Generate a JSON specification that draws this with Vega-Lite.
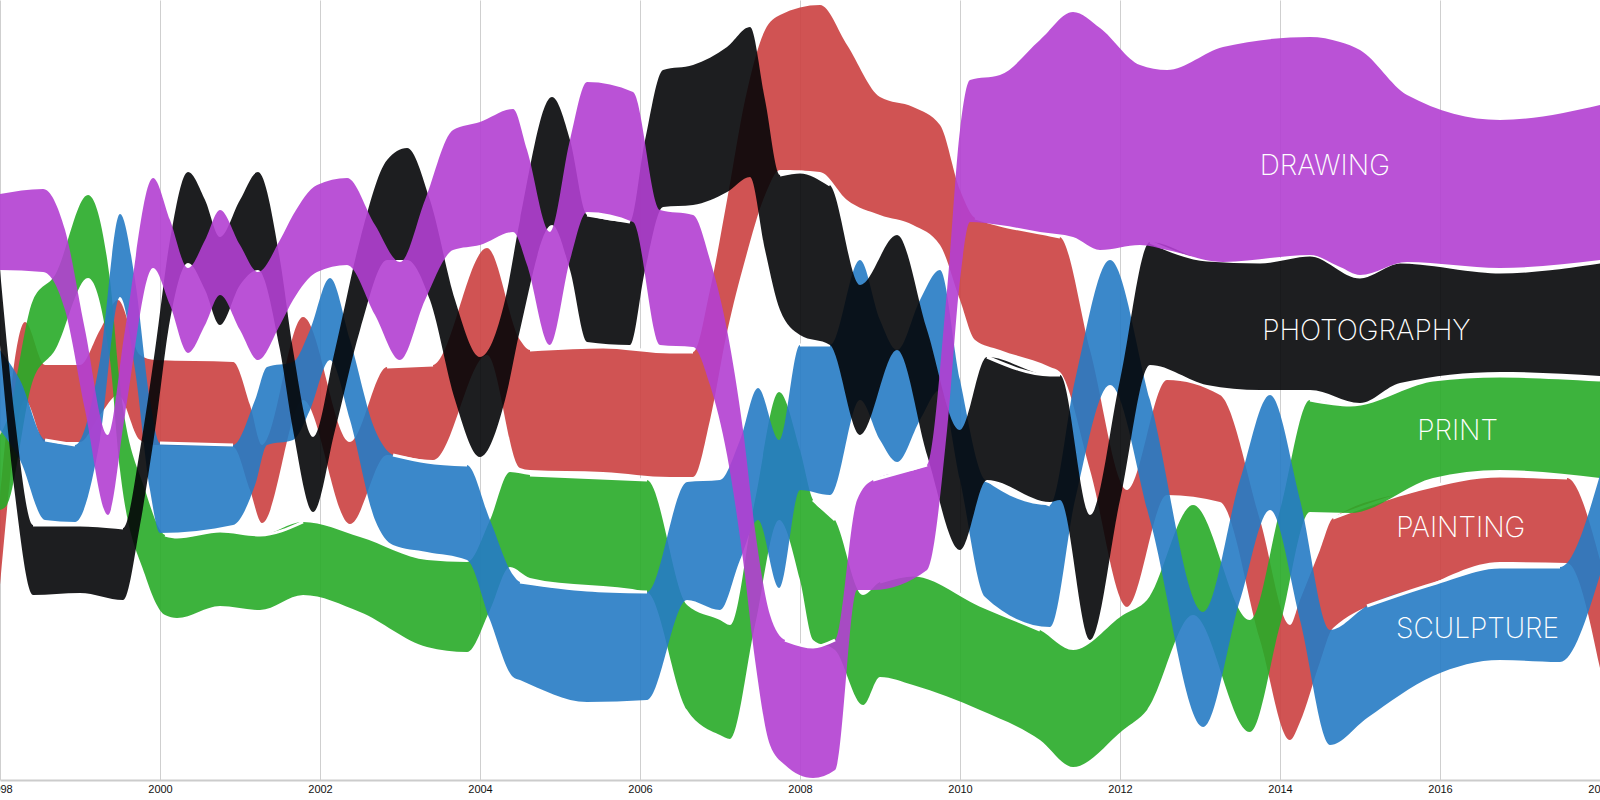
{
  "$schema": "https://vega.github.io/schema/vega-lite/v6.json",
  "width": 1600,
  "height": 780,
  "autosize": "none",
  "padding": {"left": 0, "top": 0, "right": 0, "bottom": 20},
  "background": "white",
  "config": {"view": {"stroke": null}},
  "datasets": {
    "bands": [
      {"category": "DRAWING", "year": 1998.000, "top": 194, "bottom": 270},
      {"category": "DRAWING", "year": 1998.538, "top": 189, "bottom": 272},
      {"category": "DRAWING", "year": 1998.813, "top": 230, "bottom": 310},
      {"category": "DRAWING", "year": 1999.063, "top": 330, "bottom": 410},
      {"category": "DRAWING", "year": 1999.350, "top": 435, "bottom": 515},
      {"category": "DRAWING", "year": 1999.563, "top": 330, "bottom": 415},
      {"category": "DRAWING", "year": 1999.913, "top": 178, "bottom": 268},
      {"category": "DRAWING", "year": 2000.125, "top": 220, "bottom": 305},
      {"category": "DRAWING", "year": 2000.350, "top": 268, "bottom": 353},
      {"category": "DRAWING", "year": 2000.563, "top": 240, "bottom": 325},
      {"category": "DRAWING", "year": 2000.750, "top": 210, "bottom": 295},
      {"category": "DRAWING", "year": 2001.000, "top": 245, "bottom": 330},
      {"category": "DRAWING", "year": 2001.225, "top": 272, "bottom": 360},
      {"category": "DRAWING", "year": 2001.500, "top": 240, "bottom": 325},
      {"category": "DRAWING", "year": 2001.663, "top": 215, "bottom": 300},
      {"category": "DRAWING", "year": 2001.963, "top": 185, "bottom": 272},
      {"category": "DRAWING", "year": 2002.338, "top": 178, "bottom": 265},
      {"category": "DRAWING", "year": 2002.688, "top": 225, "bottom": 315},
      {"category": "DRAWING", "year": 2003.000, "top": 262, "bottom": 360},
      {"category": "DRAWING", "year": 2003.313, "top": 200, "bottom": 300},
      {"category": "DRAWING", "year": 2003.663, "top": 130, "bottom": 250},
      {"category": "DRAWING", "year": 2004.000, "top": 122, "bottom": 245},
      {"category": "DRAWING", "year": 2004.413, "top": 109, "bottom": 232},
      {"category": "DRAWING", "year": 2004.588, "top": 150, "bottom": 265},
      {"category": "DRAWING", "year": 2004.875, "top": 232, "bottom": 345},
      {"category": "DRAWING", "year": 2005.125, "top": 140, "bottom": 260},
      {"category": "DRAWING", "year": 2005.338, "top": 82, "bottom": 212},
      {"category": "DRAWING", "year": 2005.913, "top": 92, "bottom": 222},
      {"category": "DRAWING", "year": 2006.250, "top": 210, "bottom": 345},
      {"category": "DRAWING", "year": 2006.663, "top": 215, "bottom": 347},
      {"category": "DRAWING", "year": 2006.875, "top": 260, "bottom": 385},
      {"category": "DRAWING", "year": 2007.088, "top": 330, "bottom": 455},
      {"category": "DRAWING", "year": 2007.288, "top": 430, "bottom": 560},
      {"category": "DRAWING", "year": 2007.438, "top": 530, "bottom": 660},
      {"category": "DRAWING", "year": 2007.625, "top": 615, "bottom": 745},
      {"category": "DRAWING", "year": 2007.813, "top": 640, "bottom": 765},
      {"category": "DRAWING", "year": 2008.163, "top": 647, "bottom": 778},
      {"category": "DRAWING", "year": 2008.438, "top": 640, "bottom": 770},
      {"category": "DRAWING", "year": 2008.713, "top": 500, "bottom": 590},
      {"category": "DRAWING", "year": 2008.913, "top": 480, "bottom": 590},
      {"category": "DRAWING", "year": 2009.588, "top": 465, "bottom": 570},
      {"category": "DRAWING", "year": 2009.838, "top": 290, "bottom": 430},
      {"category": "DRAWING", "year": 2010.000, "top": 130, "bottom": 280},
      {"category": "DRAWING", "year": 2010.125, "top": 80, "bottom": 222},
      {"category": "DRAWING", "year": 2010.500, "top": 75, "bottom": 225},
      {"category": "DRAWING", "year": 2011.000, "top": 40, "bottom": 232},
      {"category": "DRAWING", "year": 2011.413, "top": 12, "bottom": 237},
      {"category": "DRAWING", "year": 2011.750, "top": 28, "bottom": 250},
      {"category": "DRAWING", "year": 2012.250, "top": 65, "bottom": 245},
      {"category": "DRAWING", "year": 2012.588, "top": 70, "bottom": 250},
      {"category": "DRAWING", "year": 2013.288, "top": 47, "bottom": 262},
      {"category": "DRAWING", "year": 2014.375, "top": 37, "bottom": 255},
      {"category": "DRAWING", "year": 2014.750, "top": 42, "bottom": 267},
      {"category": "DRAWING", "year": 2015.000, "top": 50, "bottom": 275},
      {"category": "DRAWING", "year": 2015.588, "top": 95, "bottom": 262},
      {"category": "DRAWING", "year": 2016.750, "top": 120, "bottom": 268},
      {"category": "DRAWING", "year": 2018.000, "top": 105, "bottom": 260},

      {"category": "PHOTOGRAPHY", "year": 1998.000, "top": 270, "bottom": 345},
      {"category": "PHOTOGRAPHY", "year": 1998.188, "top": 420, "bottom": 495},
      {"category": "PHOTOGRAPHY", "year": 1998.413, "top": 525, "bottom": 595},
      {"category": "PHOTOGRAPHY", "year": 1999.000, "top": 525, "bottom": 593},
      {"category": "PHOTOGRAPHY", "year": 1999.538, "top": 528, "bottom": 600},
      {"category": "PHOTOGRAPHY", "year": 1999.750, "top": 450, "bottom": 525},
      {"category": "PHOTOGRAPHY", "year": 1999.938, "top": 350, "bottom": 430},
      {"category": "PHOTOGRAPHY", "year": 2000.125, "top": 240, "bottom": 320},
      {"category": "PHOTOGRAPHY", "year": 2000.350, "top": 172, "bottom": 263},
      {"category": "PHOTOGRAPHY", "year": 2000.563, "top": 200, "bottom": 290},
      {"category": "PHOTOGRAPHY", "year": 2000.750, "top": 237, "bottom": 325},
      {"category": "PHOTOGRAPHY", "year": 2001.000, "top": 200, "bottom": 285},
      {"category": "PHOTOGRAPHY", "year": 2001.225, "top": 172, "bottom": 270},
      {"category": "PHOTOGRAPHY", "year": 2001.500, "top": 260, "bottom": 350},
      {"category": "PHOTOGRAPHY", "year": 2001.663, "top": 350, "bottom": 430},
      {"category": "PHOTOGRAPHY", "year": 2001.913, "top": 437, "bottom": 512},
      {"category": "PHOTOGRAPHY", "year": 2002.188, "top": 350, "bottom": 430},
      {"category": "PHOTOGRAPHY", "year": 2002.500, "top": 240, "bottom": 330},
      {"category": "PHOTOGRAPHY", "year": 2002.838, "top": 160, "bottom": 260},
      {"category": "PHOTOGRAPHY", "year": 2003.088, "top": 148, "bottom": 260},
      {"category": "PHOTOGRAPHY", "year": 2003.375, "top": 200, "bottom": 300},
      {"category": "PHOTOGRAPHY", "year": 2003.688, "top": 300, "bottom": 400},
      {"category": "PHOTOGRAPHY", "year": 2004.000, "top": 357, "bottom": 457},
      {"category": "PHOTOGRAPHY", "year": 2004.313, "top": 300, "bottom": 400},
      {"category": "PHOTOGRAPHY", "year": 2004.500, "top": 220, "bottom": 330},
      {"category": "PHOTOGRAPHY", "year": 2004.900, "top": 97, "bottom": 225},
      {"category": "PHOTOGRAPHY", "year": 2005.125, "top": 140, "bottom": 270},
      {"category": "PHOTOGRAPHY", "year": 2005.338, "top": 215, "bottom": 342},
      {"category": "PHOTOGRAPHY", "year": 2005.875, "top": 222, "bottom": 345},
      {"category": "PHOTOGRAPHY", "year": 2006.063, "top": 140, "bottom": 270},
      {"category": "PHOTOGRAPHY", "year": 2006.288, "top": 70, "bottom": 207},
      {"category": "PHOTOGRAPHY", "year": 2006.663, "top": 65, "bottom": 205},
      {"category": "PHOTOGRAPHY", "year": 2007.088, "top": 47, "bottom": 192},
      {"category": "PHOTOGRAPHY", "year": 2007.375, "top": 27, "bottom": 177},
      {"category": "PHOTOGRAPHY", "year": 2007.563, "top": 100, "bottom": 250},
      {"category": "PHOTOGRAPHY", "year": 2007.750, "top": 175, "bottom": 310},
      {"category": "PHOTOGRAPHY", "year": 2008.000, "top": 172, "bottom": 335},
      {"category": "PHOTOGRAPHY", "year": 2008.375, "top": 185, "bottom": 345},
      {"category": "PHOTOGRAPHY", "year": 2008.750, "top": 285, "bottom": 435},
      {"category": "PHOTOGRAPHY", "year": 2009.213, "top": 235, "bottom": 350},
      {"category": "PHOTOGRAPHY", "year": 2009.588, "top": 330, "bottom": 455},
      {"category": "PHOTOGRAPHY", "year": 2010.000, "top": 430, "bottom": 550},
      {"category": "PHOTOGRAPHY", "year": 2010.338, "top": 357, "bottom": 480},
      {"category": "PHOTOGRAPHY", "year": 2011.125, "top": 375, "bottom": 502},
      {"category": "PHOTOGRAPHY", "year": 2011.250, "top": 375, "bottom": 500},
      {"category": "PHOTOGRAPHY", "year": 2011.625, "top": 515, "bottom": 640},
      {"category": "PHOTOGRAPHY", "year": 2012.000, "top": 380, "bottom": 500},
      {"category": "PHOTOGRAPHY", "year": 2012.375, "top": 242, "bottom": 365},
      {"category": "PHOTOGRAPHY", "year": 2013.088, "top": 260, "bottom": 385},
      {"category": "PHOTOGRAPHY", "year": 2013.750, "top": 262, "bottom": 390},
      {"category": "PHOTOGRAPHY", "year": 2014.375, "top": 255, "bottom": 390},
      {"category": "PHOTOGRAPHY", "year": 2015.000, "top": 277, "bottom": 403},
      {"category": "PHOTOGRAPHY", "year": 2015.500, "top": 262, "bottom": 383},
      {"category": "PHOTOGRAPHY", "year": 2016.750, "top": 272, "bottom": 372},
      {"category": "PHOTOGRAPHY", "year": 2018.000, "top": 262, "bottom": 376},

      {"category": "PRINT", "year": 1998.000, "top": 435, "bottom": 510},
      {"category": "PRINT", "year": 1998.088, "top": 420, "bottom": 505},
      {"category": "PRINT", "year": 1998.413, "top": 300, "bottom": 380},
      {"category": "PRINT", "year": 1998.688, "top": 275, "bottom": 350},
      {"category": "PRINT", "year": 1999.100, "top": 195, "bottom": 278},
      {"category": "PRINT", "year": 1999.375, "top": 280, "bottom": 360},
      {"category": "PRINT", "year": 1999.500, "top": 385, "bottom": 470},
      {"category": "PRINT", "year": 1999.813, "top": 490, "bottom": 575},
      {"category": "PRINT", "year": 2000.063, "top": 535, "bottom": 615},
      {"category": "PRINT", "year": 2000.213, "top": 537, "bottom": 618},
      {"category": "PRINT", "year": 2000.750, "top": 531, "bottom": 606},
      {"category": "PRINT", "year": 2001.250, "top": 535, "bottom": 610},
      {"category": "PRINT", "year": 2001.788, "top": 522, "bottom": 595},
      {"category": "PRINT", "year": 2002.500, "top": 537, "bottom": 612},
      {"category": "PRINT", "year": 2003.338, "top": 560, "bottom": 647},
      {"category": "PRINT", "year": 2003.838, "top": 562, "bottom": 652},
      {"category": "PRINT", "year": 2004.125, "top": 520, "bottom": 610},
      {"category": "PRINT", "year": 2004.375, "top": 472, "bottom": 567},
      {"category": "PRINT", "year": 2004.625, "top": 475, "bottom": 578},
      {"category": "PRINT", "year": 2006.088, "top": 480, "bottom": 592},
      {"category": "PRINT", "year": 2006.588, "top": 605, "bottom": 710},
      {"category": "PRINT", "year": 2007.000, "top": 620, "bottom": 735},
      {"category": "PRINT", "year": 2007.125, "top": 625, "bottom": 739},
      {"category": "PRINT", "year": 2007.438, "top": 500, "bottom": 625},
      {"category": "PRINT", "year": 2007.738, "top": 392, "bottom": 520},
      {"category": "PRINT", "year": 2008.000, "top": 450, "bottom": 580},
      {"category": "PRINT", "year": 2008.163, "top": 500, "bottom": 640},
      {"category": "PRINT", "year": 2008.438, "top": 520, "bottom": 650},
      {"category": "PRINT", "year": 2008.788, "top": 595, "bottom": 705},
      {"category": "PRINT", "year": 2009.000, "top": 582, "bottom": 677},
      {"category": "PRINT", "year": 2009.413, "top": 575, "bottom": 685},
      {"category": "PRINT", "year": 2010.250, "top": 605, "bottom": 710},
      {"category": "PRINT", "year": 2011.000, "top": 630, "bottom": 740},
      {"category": "PRINT", "year": 2011.413, "top": 650, "bottom": 767},
      {"category": "PRINT", "year": 2012.038, "top": 615, "bottom": 730},
      {"category": "PRINT", "year": 2012.338, "top": 600, "bottom": 710},
      {"category": "PRINT", "year": 2012.913, "top": 505, "bottom": 615},
      {"category": "PRINT", "year": 2013.625, "top": 620, "bottom": 732},
      {"category": "PRINT", "year": 2014.000, "top": 510, "bottom": 625},
      {"category": "PRINT", "year": 2014.375, "top": 400, "bottom": 512},
      {"category": "PRINT", "year": 2014.875, "top": 405, "bottom": 513},
      {"category": "PRINT", "year": 2015.913, "top": 380, "bottom": 478},
      {"category": "PRINT", "year": 2016.750, "top": 376, "bottom": 470},
      {"category": "PRINT", "year": 2018.000, "top": 380, "bottom": 478},

      {"category": "PAINTING", "year": 1998.000, "top": 500, "bottom": 585},
      {"category": "PAINTING", "year": 1998.313, "top": 322, "bottom": 400},
      {"category": "PAINTING", "year": 1998.563, "top": 365, "bottom": 442},
      {"category": "PAINTING", "year": 1999.000, "top": 365, "bottom": 442},
      {"category": "PAINTING", "year": 1999.250, "top": 330, "bottom": 415},
      {"category": "PAINTING", "year": 1999.475, "top": 300, "bottom": 395},
      {"category": "PAINTING", "year": 1999.750, "top": 355, "bottom": 440},
      {"category": "PAINTING", "year": 1999.938, "top": 360, "bottom": 445},
      {"category": "PAINTING", "year": 2000.913, "top": 362, "bottom": 447},
      {"category": "PAINTING", "year": 2001.125, "top": 405, "bottom": 490},
      {"category": "PAINTING", "year": 2001.275, "top": 445, "bottom": 523},
      {"category": "PAINTING", "year": 2001.788, "top": 317, "bottom": 400},
      {"category": "PAINTING", "year": 2002.375, "top": 442, "bottom": 524},
      {"category": "PAINTING", "year": 2002.838, "top": 367, "bottom": 455},
      {"category": "PAINTING", "year": 2003.413, "top": 365, "bottom": 460},
      {"category": "PAINTING", "year": 2004.088, "top": 248, "bottom": 355},
      {"category": "PAINTING", "year": 2004.500, "top": 340, "bottom": 468},
      {"category": "PAINTING", "year": 2004.625, "top": 350, "bottom": 470},
      {"category": "PAINTING", "year": 2005.538, "top": 347, "bottom": 472},
      {"category": "PAINTING", "year": 2006.375, "top": 352, "bottom": 477},
      {"category": "PAINTING", "year": 2006.663, "top": 352, "bottom": 477},
      {"category": "PAINTING", "year": 2006.875, "top": 290, "bottom": 420},
      {"category": "PAINTING", "year": 2007.088, "top": 200, "bottom": 332},
      {"category": "PAINTING", "year": 2007.313, "top": 100, "bottom": 260},
      {"category": "PAINTING", "year": 2007.563, "top": 30, "bottom": 195},
      {"category": "PAINTING", "year": 2007.750, "top": 15, "bottom": 170},
      {"category": "PAINTING", "year": 2008.250, "top": 5, "bottom": 172},
      {"category": "PAINTING", "year": 2008.588, "top": 45, "bottom": 200},
      {"category": "PAINTING", "year": 2009.000, "top": 97, "bottom": 215},
      {"category": "PAINTING", "year": 2009.413, "top": 107, "bottom": 225},
      {"category": "PAINTING", "year": 2009.750, "top": 125, "bottom": 245},
      {"category": "PAINTING", "year": 2010.000, "top": 190, "bottom": 300},
      {"category": "PAINTING", "year": 2010.188, "top": 218, "bottom": 340},
      {"category": "PAINTING", "year": 2010.500, "top": 225, "bottom": 350},
      {"category": "PAINTING", "year": 2011.125, "top": 235, "bottom": 367},
      {"category": "PAINTING", "year": 2011.250, "top": 237, "bottom": 372},
      {"category": "PAINTING", "year": 2011.625, "top": 350, "bottom": 470},
      {"category": "PAINTING", "year": 2012.088, "top": 490, "bottom": 607},
      {"category": "PAINTING", "year": 2012.588, "top": 380, "bottom": 495},
      {"category": "PAINTING", "year": 2013.250, "top": 395, "bottom": 502},
      {"category": "PAINTING", "year": 2013.750, "top": 520, "bottom": 640},
      {"category": "PAINTING", "year": 2014.125, "top": 625, "bottom": 740},
      {"category": "PAINTING", "year": 2014.250, "top": 600, "bottom": 722},
      {"category": "PAINTING", "year": 2014.500, "top": 550, "bottom": 662},
      {"category": "PAINTING", "year": 2014.663, "top": 518, "bottom": 628},
      {"category": "PAINTING", "year": 2015.713, "top": 490, "bottom": 590},
      {"category": "PAINTING", "year": 2016.750, "top": 476, "bottom": 562},
      {"category": "PAINTING", "year": 2017.588, "top": 478, "bottom": 563},
      {"category": "PAINTING", "year": 2018.000, "top": 560, "bottom": 668},

      {"category": "SCULPTURE", "year": 1998.000, "top": 350, "bottom": 430},
      {"category": "SCULPTURE", "year": 1998.250, "top": 380, "bottom": 460},
      {"category": "SCULPTURE", "year": 1998.563, "top": 440, "bottom": 520},
      {"category": "SCULPTURE", "year": 1998.938, "top": 445, "bottom": 522},
      {"category": "SCULPTURE", "year": 1999.250, "top": 360, "bottom": 440},
      {"category": "SCULPTURE", "year": 1999.500, "top": 214, "bottom": 297},
      {"category": "SCULPTURE", "year": 1999.688, "top": 280, "bottom": 370},
      {"category": "SCULPTURE", "year": 1999.875, "top": 400, "bottom": 490},
      {"category": "SCULPTURE", "year": 2000.000, "top": 443, "bottom": 533},
      {"category": "SCULPTURE", "year": 2000.913, "top": 445, "bottom": 525},
      {"category": "SCULPTURE", "year": 2001.188, "top": 400, "bottom": 485},
      {"category": "SCULPTURE", "year": 2001.338, "top": 367, "bottom": 445},
      {"category": "SCULPTURE", "year": 2001.663, "top": 362, "bottom": 440},
      {"category": "SCULPTURE", "year": 2001.875, "top": 330, "bottom": 410},
      {"category": "SCULPTURE", "year": 2002.125, "top": 278, "bottom": 360},
      {"category": "SCULPTURE", "year": 2002.375, "top": 340, "bottom": 420},
      {"category": "SCULPTURE", "year": 2002.688, "top": 430, "bottom": 520},
      {"category": "SCULPTURE", "year": 2002.913, "top": 455, "bottom": 545},
      {"category": "SCULPTURE", "year": 2003.338, "top": 462, "bottom": 552},
      {"category": "SCULPTURE", "year": 2003.838, "top": 465, "bottom": 560},
      {"category": "SCULPTURE", "year": 2004.125, "top": 520, "bottom": 620},
      {"category": "SCULPTURE", "year": 2004.413, "top": 575, "bottom": 677},
      {"category": "SCULPTURE", "year": 2004.500, "top": 582, "bottom": 680},
      {"category": "SCULPTURE", "year": 2005.338, "top": 590, "bottom": 702},
      {"category": "SCULPTURE", "year": 2006.088, "top": 592, "bottom": 700},
      {"category": "SCULPTURE", "year": 2006.588, "top": 482, "bottom": 600},
      {"category": "SCULPTURE", "year": 2007.000, "top": 480, "bottom": 610},
      {"category": "SCULPTURE", "year": 2007.250, "top": 440, "bottom": 560},
      {"category": "SCULPTURE", "year": 2007.475, "top": 388, "bottom": 520},
      {"category": "SCULPTURE", "year": 2007.738, "top": 440, "bottom": 588},
      {"category": "SCULPTURE", "year": 2008.000, "top": 345, "bottom": 490},
      {"category": "SCULPTURE", "year": 2008.375, "top": 345, "bottom": 495},
      {"category": "SCULPTURE", "year": 2008.750, "top": 260, "bottom": 400},
      {"category": "SCULPTURE", "year": 2009.000, "top": 320, "bottom": 440},
      {"category": "SCULPTURE", "year": 2009.213, "top": 350, "bottom": 462},
      {"category": "SCULPTURE", "year": 2009.500, "top": 300, "bottom": 420},
      {"category": "SCULPTURE", "year": 2009.750, "top": 270, "bottom": 390},
      {"category": "SCULPTURE", "year": 2010.000, "top": 380, "bottom": 480},
      {"category": "SCULPTURE", "year": 2010.313, "top": 480, "bottom": 597},
      {"category": "SCULPTURE", "year": 2011.125, "top": 505, "bottom": 627},
      {"category": "SCULPTURE", "year": 2011.438, "top": 380, "bottom": 500},
      {"category": "SCULPTURE", "year": 2011.875, "top": 260, "bottom": 385},
      {"category": "SCULPTURE", "year": 2012.375, "top": 400, "bottom": 520},
      {"category": "SCULPTURE", "year": 2013.038, "top": 612, "bottom": 727},
      {"category": "SCULPTURE", "year": 2013.500, "top": 480, "bottom": 600},
      {"category": "SCULPTURE", "year": 2013.875, "top": 395, "bottom": 510},
      {"category": "SCULPTURE", "year": 2014.250, "top": 500, "bottom": 620},
      {"category": "SCULPTURE", "year": 2014.625, "top": 630, "bottom": 745},
      {"category": "SCULPTURE", "year": 2015.088, "top": 606, "bottom": 718},
      {"category": "SCULPTURE", "year": 2015.913, "top": 584, "bottom": 676},
      {"category": "SCULPTURE", "year": 2016.750, "top": 567, "bottom": 660},
      {"category": "SCULPTURE", "year": 2017.500, "top": 567, "bottom": 662},
      {"category": "SCULPTURE", "year": 2018.000, "top": 475, "bottom": 575}
    ],
    "labels": [
      {"category": "DRAWING", "year": 2014.56, "top": 167},
      {"category": "PHOTOGRAPHY", "year": 2015.08, "top": 332},
      {"category": "PRINT", "year": 2016.22, "top": 432},
      {"category": "PAINTING", "year": 2016.26, "top": 529},
      {"category": "SCULPTURE", "year": 2016.47, "top": 630}
    ]
  },
  "encoding": {
    "x": {
      "field": "year",
      "type": "quantitative",
      "scale": {"domain": [1998, 2018], "nice": false},
      "axis": {
        "values": [1998, 2000, 2002, 2004, 2006, 2008, 2010, 2012, 2014, 2016, 2018],
        "format": "d",
        "title": null,
        "grid": true,
        "gridColor": "#cfcfcf",
        "gridWidth": 1,
        "domainColor": "#cccccc",
        "domainWidth": 2,
        "ticks": false,
        "labelFlush": false,
        "labelOverlap": false,
        "labelFont": "Liberation Sans",
        "labelFontSize": 11,
        "labelColor": "#111111",
        "labelPadding": 3
      }
    },
    "y": {
      "field": "top",
      "type": "quantitative",
      "scale": {"domain": [0, 780], "reverse": true, "nice": false, "zero": false},
      "axis": null
    }
  },
  "layer": [
    {
      "data": {"name": "bands"},
      "transform": [{"filter": "datum.category == 'PAINTING'"}],
      "layer": [
        {"mark": {"type": "area", "interpolate": "monotone", "color": "#cb4040", "fillOpacity": 0.9}, "encoding": {"y2": {"field": "bottom"}}},
        {"transform": [{"filter": "datum.year >= 2002.83 && datum.year <= 2003.42"}], "mark": {"type": "line", "interpolate": "monotone", "stroke": "#ffffff", "strokeWidth": 3}, "encoding": {}},
        {"transform": [{"filter": "datum.year >= 2004.62 && datum.year <= 2006.67"}], "mark": {"type": "line", "interpolate": "monotone", "stroke": "#ffffff", "strokeWidth": 3}, "encoding": {}},
        {"transform": [{"filter": "datum.year >= 2010.18 && datum.year <= 2011.26"}], "mark": {"type": "line", "interpolate": "monotone", "stroke": "#ffffff", "strokeWidth": 3}, "encoding": {}},
        {"transform": [{"filter": "datum.year >= 2014.66 && datum.year <= 2017.59"}], "mark": {"type": "line", "interpolate": "monotone", "stroke": "#ffffff", "strokeWidth": 3}, "encoding": {}}
      ]
    },
    {
      "data": {"name": "bands"},
      "transform": [{"filter": "datum.category == 'PRINT'"}],
      "layer": [
        {"mark": {"type": "area", "interpolate": "monotone", "color": "#28ab28", "fillOpacity": 0.9}, "encoding": {"y2": {"field": "bottom"}}},
        {"transform": [{"filter": "datum.year >= 2000.06 && datum.year <= 2001.79"}], "mark": {"type": "line", "interpolate": "monotone", "stroke": "#ffffff", "strokeWidth": 3}, "encoding": {}},
        {"transform": [{"filter": "datum.year >= 2004.62 && datum.year <= 2006.09"}], "mark": {"type": "line", "interpolate": "monotone", "stroke": "#ffffff", "strokeWidth": 3}, "encoding": {}},
        {"transform": [{"filter": "datum.year >= 2008.16 && datum.year <= 2008.44"}], "mark": {"type": "line", "interpolate": "monotone", "stroke": "#ffffff", "strokeWidth": 3}, "encoding": {}},
        {"transform": [{"filter": "datum.year >= 2008.91 && datum.year <= 2011.0"}], "mark": {"type": "line", "interpolate": "monotone", "stroke": "#ffffff", "strokeWidth": 3}, "encoding": {}},
        {"transform": [{"filter": "datum.year >= 2014.37 && datum.year <= 2018"}], "mark": {"type": "line", "interpolate": "monotone", "stroke": "#ffffff", "strokeWidth": 3}, "encoding": {}}
      ]
    },
    {
      "data": {"name": "bands"},
      "transform": [{"filter": "datum.category == 'SCULPTURE'"}],
      "layer": [
        {"mark": {"type": "area", "interpolate": "monotone", "color": "#267bc4", "fillOpacity": 0.9}, "encoding": {"y2": {"field": "bottom"}}},
        {"transform": [{"filter": "datum.year >= 1998.56 && datum.year <= 1998.94"}], "mark": {"type": "line", "interpolate": "monotone", "stroke": "#ffffff", "strokeWidth": 3}, "encoding": {}},
        {"transform": [{"filter": "datum.year >= 2000.0 && datum.year <= 2000.92"}], "mark": {"type": "line", "interpolate": "monotone", "stroke": "#ffffff", "strokeWidth": 3}, "encoding": {}},
        {"transform": [{"filter": "datum.year >= 2002.91 && datum.year <= 2003.84"}], "mark": {"type": "line", "interpolate": "monotone", "stroke": "#ffffff", "strokeWidth": 3}, "encoding": {}},
        {"transform": [{"filter": "datum.year >= 2004.5 && datum.year <= 2006.09"}], "mark": {"type": "line", "interpolate": "monotone", "stroke": "#ffffff", "strokeWidth": 3}, "encoding": {}},
        {"transform": [{"filter": "datum.year >= 2008.0 && datum.year <= 2008.38"}], "mark": {"type": "line", "interpolate": "monotone", "stroke": "#ffffff", "strokeWidth": 3}, "encoding": {}},
        {"transform": [{"filter": "datum.year >= 2010.31 && datum.year <= 2011.13"}], "mark": {"type": "line", "interpolate": "monotone", "stroke": "#ffffff", "strokeWidth": 3}, "encoding": {}},
        {"transform": [{"filter": "datum.year >= 2015.08 && datum.year <= 2017.5"}], "mark": {"type": "line", "interpolate": "monotone", "stroke": "#ffffff", "strokeWidth": 3}, "encoding": {}}
      ]
    },
    {
      "data": {"name": "bands"},
      "transform": [{"filter": "datum.category == 'PHOTOGRAPHY'"}],
      "layer": [
        {"mark": {"type": "area", "interpolate": "monotone", "color": "#040508", "fillOpacity": 0.9}, "encoding": {"y2": {"field": "bottom"}}},
        {"transform": [{"filter": "datum.year >= 1998.41 && datum.year <= 1999.54"}], "mark": {"type": "line", "interpolate": "monotone", "stroke": "#ffffff", "strokeWidth": 3}, "encoding": {}},
        {"transform": [{"filter": "datum.year >= 2005.33 && datum.year <= 2005.88"}], "mark": {"type": "line", "interpolate": "monotone", "stroke": "#ffffff", "strokeWidth": 3}, "encoding": {}},
        {"transform": [{"filter": "datum.year >= 2007.75 && datum.year <= 2008.38"}], "mark": {"type": "line", "interpolate": "monotone", "stroke": "#ffffff", "strokeWidth": 3}, "encoding": {}},
        {"transform": [{"filter": "datum.year >= 2010.33 && datum.year <= 2011.26"}], "mark": {"type": "line", "interpolate": "monotone", "stroke": "#ffffff", "strokeWidth": 3}, "encoding": {}},
        {"transform": [{"filter": "datum.year >= 2012.37 && datum.year <= 2018"}], "mark": {"type": "line", "interpolate": "monotone", "stroke": "#ffffff", "strokeWidth": 3}, "encoding": {}}
      ]
    },
    {
      "data": {"name": "bands"},
      "transform": [{"filter": "datum.category == 'DRAWING'"}],
      "layer": [
        {"mark": {"type": "area", "interpolate": "monotone", "color": "#b23fd1", "fillOpacity": 0.9}, "encoding": {"y2": {"field": "bottom"}}},
        {"transform": [{"filter": "datum.year >= 2007.81 && datum.year <= 2008.44"}], "mark": {"type": "line", "interpolate": "monotone", "stroke": "#ffffff", "strokeWidth": 3}, "encoding": {}},
        {"transform": [{"filter": "datum.year >= 2008.91 && datum.year <= 2009.59"}], "mark": {"type": "line", "interpolate": "monotone", "stroke": "#ffffff", "strokeWidth": 3}, "encoding": {}}
      ]
    },
    {
      "data": {"name": "labels"},
      "mark": {"type": "text", "color": "#ffffff", "font": "Inter", "fontWeight": 200, "fontSize": 28, "align": "center", "baseline": "middle"},
      "encoding": {"text": {"field": "category"}}
    }
  ]
}
